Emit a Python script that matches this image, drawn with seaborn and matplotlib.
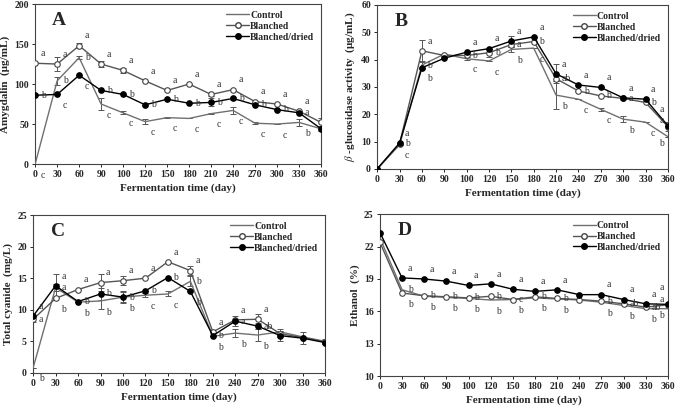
import numpy as np
import pandas as pd
import matplotlib
matplotlib.use('Agg')
import matplotlib.pyplot as plt
from matplotlib.lines import Line2D
import seaborn as sns

sns.set_style('ticks')
plt.rcParams['font.family'] = ['Liberation Serif', 'DejaVu Serif']
plt.rcParams['mathtext.fontset'] = 'stix'

days = ['0', '30', '60', '90', '100', '120', '150', '180', '210', '240', '270', '300', '330', '360']
series = ['Control', 'Blanched', 'Blanched/dried']

# A - amygdalin
amy_control = [0, 104, 133, 75, 64, 53, 58, 57, 63, 67, 51, 50, 52, 44]
amy_blanched = [126, 125, 148, 125, 117, 104, 92, 100, 87, 93, 78, 75, 66, 52]
amy_dried = [86, 87, 111, 92, 87, 74, 81, 76, 77, 82, 74, 68, 64, 44]
amy_control_err = [0, 5, 2, 8, 2, 3, 1, 0, 1, 4, 1, 0, 4, 3]
amy_blanched_err = [0, 9, 3, 4, 3, 0, 0, 0, 2, 0, 0, 0, 0, 6]
amy_dried_err = [0, 0, 0, 0, 0, 2, 0, 0, 5, 2, 0, 0, 0, 0]
amy_control_let = ['c', 'b', 'b', 'c', 'c', 'c', 'c', 'c', 'c', 'c', 'c', 'c', 'b', '']
amy_blanched_let = ['a', 'a', 'a', 'a', 'a', 'a', 'a', 'a', 'a', 'a', 'a', 'a', 'a', '']
amy_dried_let = ['b', 'c', 'c', 'b', 'b', 'b', 'b', 'b', 'b', 'b', 'b', 'b', 'a', '']

# B - beta-glucosidase
glu_control = [0, 8.8, 38, 42, 40.3, 39.5, 43.7, 44.2, 27, 25.5, 21.8, 18.2, 17.1, 11.8]
glu_blanched = [0, 9.2, 43.2, 41.5, 41.5, 42.5, 45.5, 46.6, 33, 28.5, 26.7, 25.8, 24.3, 15.5]
glu_dried = [0, 9.5, 37, 40.5, 42.7, 44, 46.8, 48.3, 34.8, 30.7, 29.8, 26, 25.5, 15.8]
glu_control_err = [0, 0, 1.5, 0, 0.5, 0, 1, 0, 5, 0, 0.5, 1, 0, 0]
glu_blanched_err = [0, 0, 4, 0.5, 0, 1.5, 1, 0, 1, 0, 0, 0, 0, 1.5]
glu_dried_err = [0, 0, 0, 0, 0, 0, 2, 0, 3.5, 0, 0, 0, 0, 0]
glu_control_let = ['', 'c', 'b', '', 'c', 'c', 'b', 'c', 'b', 'c', 'c', 'b', 'c', 'b']
glu_blanched_let = ['', 'b', 'a', '', 'b', 'b', 'a', 'b', 'ab', 'b', 'b', 'a', 'b', 'a']
glu_dried_let = ['', 'a', 'b', '', 'a', 'a', 'a', 'a', 'a', 'a', 'a', 'a', 'a', 'a']

# C - total cyanide
cya_control = [0.8, 13.5, 11.2, 11.4, 12.0, 12.3, 12.5, 14.5, 5.8, 6.3, 6.0, 6.5, 5.7, 5.0]
cya_blanched = [8.5, 11.8, 13.2, 14.3, 14.6, 15.0, 17.6, 16.2, 6.5, 8.4, 8.5, 6.2, 5.6, 4.9]
cya_dried = [9.0, 13.8, 11.3, 12.5, 12.0, 13.0, 15.1, 12.9, 5.9, 8.2, 7.4, 5.9, 5.5, 4.8]
cya_control_err = [0, 0.5, 0, 1.3, 0.8, 0.3, 0.4, 0.8, 0, 0.6, 1.0, 0.5, 0, 0.3]
cya_blanched_err = [0.5, 0, 0, 1.3, 0.7, 0, 0, 0.7, 0, 0, 0.8, 0.5, 0, 0]
cya_dried_err = [0, 1.8, 0, 1.0, 1.0, 0, 0, 0, 0, 0.8, 0.5, 0.8, 1.0, 0.3]
cya_control_let = ['b', 'a', 'b', 'b', 'b', 'c', 'c', 'b', 'b', 'b', 'b', '', '', '']
cya_blanched_let = ['a', 'b', 'a', 'a', 'a', 'a', 'a', 'a', 'a', 'a', 'a', '', '', '']
cya_dried_let = ['a', 'a', 'b', 'b', 'b', 'b', 'b', 'b', 'b', 'a', 'ab', '', '', '']

# D - ethanol
eth_control = [22.8, 18.0, 17.4, 17.3, 17.2, 17.05, 17.1, 17.25, 17.15, 17.05, 16.85, 16.55, 16.25, 16.25]
eth_blanched = [22.4, 17.7, 17.45, 17.35, 17.25, 17.4, 17.1, 17.35, 17.2, 17.1, 16.95, 16.7, 16.4, 16.6]
eth_dried = [23.3, 19.1, 19.0, 18.8, 18.4, 18.55, 18.05, 17.85, 18.0, 17.55, 17.55, 17.1, 16.7, 16.65]
eth_control_let = ['', 'b', 'b', 'b', 'b', 'b', 'c', 'b', 'b', '', 'b', 'b', 'b', 'b']
eth_blanched_let = ['', 'b', 'b', 'b', 'b', 'b', 'b', 'b', 'b', '', 'b', 'ab', 'ab', 'a']
eth_dried_let = ['', 'a', 'a', 'a', 'a', 'a', 'a', 'a', 'a', '', 'a', 'a', 'a', 'a']

panels = [
    ('A', 'Amygdalin  (μg/mL)', (0, 200), np.arange(0, 201, 50),
     [amy_control, amy_blanched, amy_dried], [amy_control_err, amy_blanched_err, amy_dried_err],
     [amy_control_let, amy_blanched_let, amy_dried_let]),
    ('B', r'$\beta$ -glucosidase activity  (μg/mL)', (0, 60), np.arange(0, 61, 10),
     [glu_control, glu_blanched, glu_dried], [glu_control_err, glu_blanched_err, glu_dried_err],
     [glu_control_let, glu_blanched_let, glu_dried_let]),
    ('C', 'Total cyanide  (mg/L)', (0, 25), np.arange(0, 26, 5),
     [cya_control, cya_blanched, cya_dried], [cya_control_err, cya_blanched_err, cya_dried_err],
     [cya_control_let, cya_blanched_let, cya_dried_let]),
    ('D', 'Ethanol  (%)', (10, 25), np.arange(10, 26, 3),
     [eth_control, eth_blanched, eth_dried], None,
     [eth_control_let, eth_blanched_let, eth_dried_let]),
]

rects = [
    [0.052, 0.598, 0.423, 0.392],
    [0.558, 0.586, 0.430, 0.402],
    [0.049, 0.086, 0.432, 0.387],
    [0.562, 0.078, 0.426, 0.397],
]

line_col = ['#707070', '#555555', '#000000']
mk = [None, 'o', 'o']
mfc = ['none', 'white', 'black']

fig = plt.figure(figsize=(6.76, 4.08), dpi=100)
pos = np.arange(len(days))

for (tag, ylab, ylim, yt, vals, errs, lets), rect in zip(panels, rects):
    ax = fig.add_axes(rect)
    ax.set_xlim(0, 13)
    ax.set_ylim(*ylim)
    for i, name in enumerate(series):
        df = pd.DataFrame({'x': pos, 'y': vals[i]})
        if errs is not None:
            ax.errorbar(pos, vals[i], yerr=errs[i], fmt='none', ecolor='#555555',
                        elinewidth=0.7, capsize=2, capthick=0.7, zorder=2)
        sns.lineplot(data=df, x='x', y='y', ax=ax, color=line_col[i], lw=1.0,
                     marker=mk[i], markersize=4, markerfacecolor=mfc[i],
                     markeredgecolor='black' if i == 2 else '#444444',
                     markeredgewidth=0.8, zorder=3)
    ax.set_xlim(0, 13)
    ax.set_ylim(*ylim)
    # significance letters, stacked by rank at each time point with min spacing (px)
    for j in range(len(days)):
        order = sorted(range(3), key=lambda k: -vals[k][j])
        last = j == len(days) - 1
        base = [7, 0, -8]
        if last:
            base = [12, 4, -5]
        prev = None
        for r, k in enumerate(order):
            t = lets[k][j]
            if not t:
                continue
            py = ax.transData.transform((pos[j], vals[k][j]))[1]
            target = py + base[r] * 100 / 72
            if prev is not None and target > prev - 9:
                target = prev - 9
            prev = target
            dy = (target - py) * 72 / 100
            ax.annotate(t, (pos[j], vals[k][j]),
                        xytext=(-3 if last else 4, dy),
                        textcoords='offset points', fontsize=7, va='center',
                        ha='right' if last else 'left', color='#333333')
    ax.set_yticks(yt)
    ax.set_xticks(pos)
    ax.set_xticklabels(days)
    ax.tick_params(labelsize=7, length=2.5, width=0.7, pad=2)
    for lbl in ax.get_xticklabels() + ax.get_yticklabels():
        lbl.set_fontweight('bold')
    ax.set_xlabel('Fermentation time (day)', fontsize=8, fontweight='bold', labelpad=3)
    ax.set_ylabel(ylab, fontsize=8, fontweight='bold', labelpad=3)
    for s in ax.spines.values():
        s.set_visible(True)
        s.set_linewidth(0.8)
        s.set_color('#444444')
    ax.text(0.06, 0.87, tag, transform=ax.transAxes, fontsize=14, fontweight='bold')
    handles = [Line2D([], [], color=line_col[i], lw=1.0, marker=mk[i], markersize=4,
                      markerfacecolor=mfc[i], markeredgecolor='black' if i == 2 else '#444444')
               for i in range(3)]
    ax.legend(handles, series, loc='upper right', frameon=False, handlelength=2.4,
              handletextpad=0.1, labelspacing=0.2, borderaxespad=0.3,
              prop={'size': 7, 'weight': 'bold'})

fig.savefig('out.png', dpi=100)
